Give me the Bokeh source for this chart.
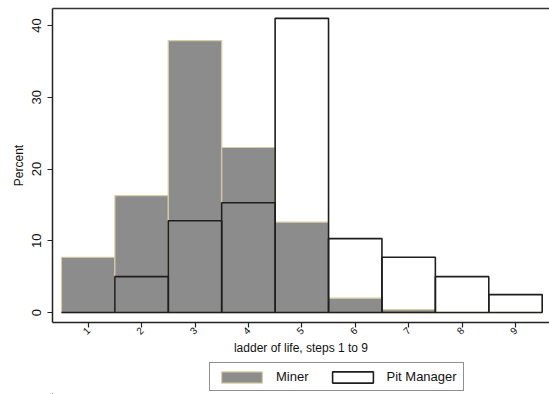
import math
from bokeh.plotting import figure
from bokeh.layouts import column
from bokeh.models import (ColumnDataSource, FixedTicker, Range1d, Legend, LegendItem,
                          LinearAxis)
from bokeh.embed import file_html
from bokeh.resources import INLINE

steps = [1, 2, 3, 4, 5, 6, 7, 8, 9]
miner = [7.7, 16.3, 37.9, 23.0, 12.6, 2.0, 0.4, 0.0, 0.0]
pit_manager = [0.0, 5.0, 12.8, 15.3, 41.0, 10.3, 7.7, 5.0, 2.5]
y_ticks = [0, 10, 20, 30, 40]

src = ColumnDataSource(dict(x=steps, miner=miner, pm=pit_manager))

miner_style = dict(fill_color="#8c8c8c", line_color="#d6cea4", line_width=1.2)
pm_style = dict(fill_alpha=0, line_color="#1e1e1e", line_width=1.6)

p = figure(frame_width=497, frame_height=314, output_backend="svg", toolbar_location=None,
           x_range=Range1d(0.332, 9.637), y_range=Range1d(-1.39, 42.37),
           min_border_left=52, min_border_right=0, min_border_top=8, min_border_bottom=40)

p.vbar(x="x", top="miner", bottom=0, width=1, source=src, **miner_style)
p.vbar(x="x", top="pm", bottom=0, width=1, source=src, **pm_style)

p.xgrid.visible = False
p.ygrid.visible = False
p.background_fill_color = "white"
p.outline_line_color = None

top_axis = LinearAxis(ticker=FixedTicker(ticks=[]), axis_line_color="#333333",
                      axis_line_width=1.5, major_tick_line_color=None,
                      minor_tick_line_color=None, major_label_text_font_size="0px")
p.add_layout(top_axis, "above")

font = "Liberation Sans"
xax = p.below[0]
yax = p.left[0]
yax.ticker = FixedTicker(ticks=y_ticks)
yax.axis_label = "Percent"
yax.major_label_orientation = "vertical"
xax.ticker = FixedTicker(ticks=steps)
xax.axis_label = "ladder of life, steps 1 to 9"
xax.major_label_orientation = math.pi / 4

for ax in (xax, yax):
    ax.axis_line_color = "#222222"
    ax.axis_line_width = 1.5
    ax.major_tick_line_color = "#222222"
    ax.major_tick_line_width = 1.2
    ax.major_tick_in = 0
    ax.major_tick_out = 5
    ax.minor_tick_line_color = None
    ax.major_label_text_font = font
    ax.major_label_text_color = "#111111"
    ax.axis_label_text_font = font
    ax.axis_label_text_font_style = "normal"
    ax.axis_label_text_color = "#111111"
    ax.axis_label_text_font_size = "12px"

yax.major_label_text_font_size = "13px"
yax.major_label_standoff = 6
yax.axis_label_standoff = 4
xax.major_label_text_font_size = "10px"
xax.major_label_standoff = 1
xax.axis_label_standoff = 0

# legend strip below the chart
p2 = figure(width=549, height=32, output_backend="svg", toolbar_location=None,
            x_range=Range1d(100, 101), y_range=Range1d(100, 101),
            x_axis_location=None, y_axis_location=None,
            min_border_left=0, min_border_right=0, min_border_top=0, min_border_bottom=0)
p2.outline_line_color = None
p2.xgrid.visible = False
p2.ygrid.visible = False
q1 = p2.vbar(x="x", top="miner", bottom=0, width=1, source=src, **miner_style)
q2 = p2.vbar(x="x", top="pm", bottom=0, width=1, source=src, **pm_style)

legend = Legend(items=[LegendItem(label="Miner", renderers=[q1]),
                       LegendItem(label="Pit Manager", renderers=[q2])],
                orientation="horizontal", location=(157, 3),
                glyph_width=51, glyph_height=14, spacing=18,
                label_text_font=font, label_text_font_size="13px",
                label_text_color="#111111",
                border_line_color="#222222", border_line_width=1.5,
                padding=6, margin=0, label_standoff=9,
                label_height=14, background_fill_color="white")
p2.add_layout(legend, "center")

layout = column(p, p2, spacing=0)
open("out.html", "w").write(file_html(layout, INLINE))
